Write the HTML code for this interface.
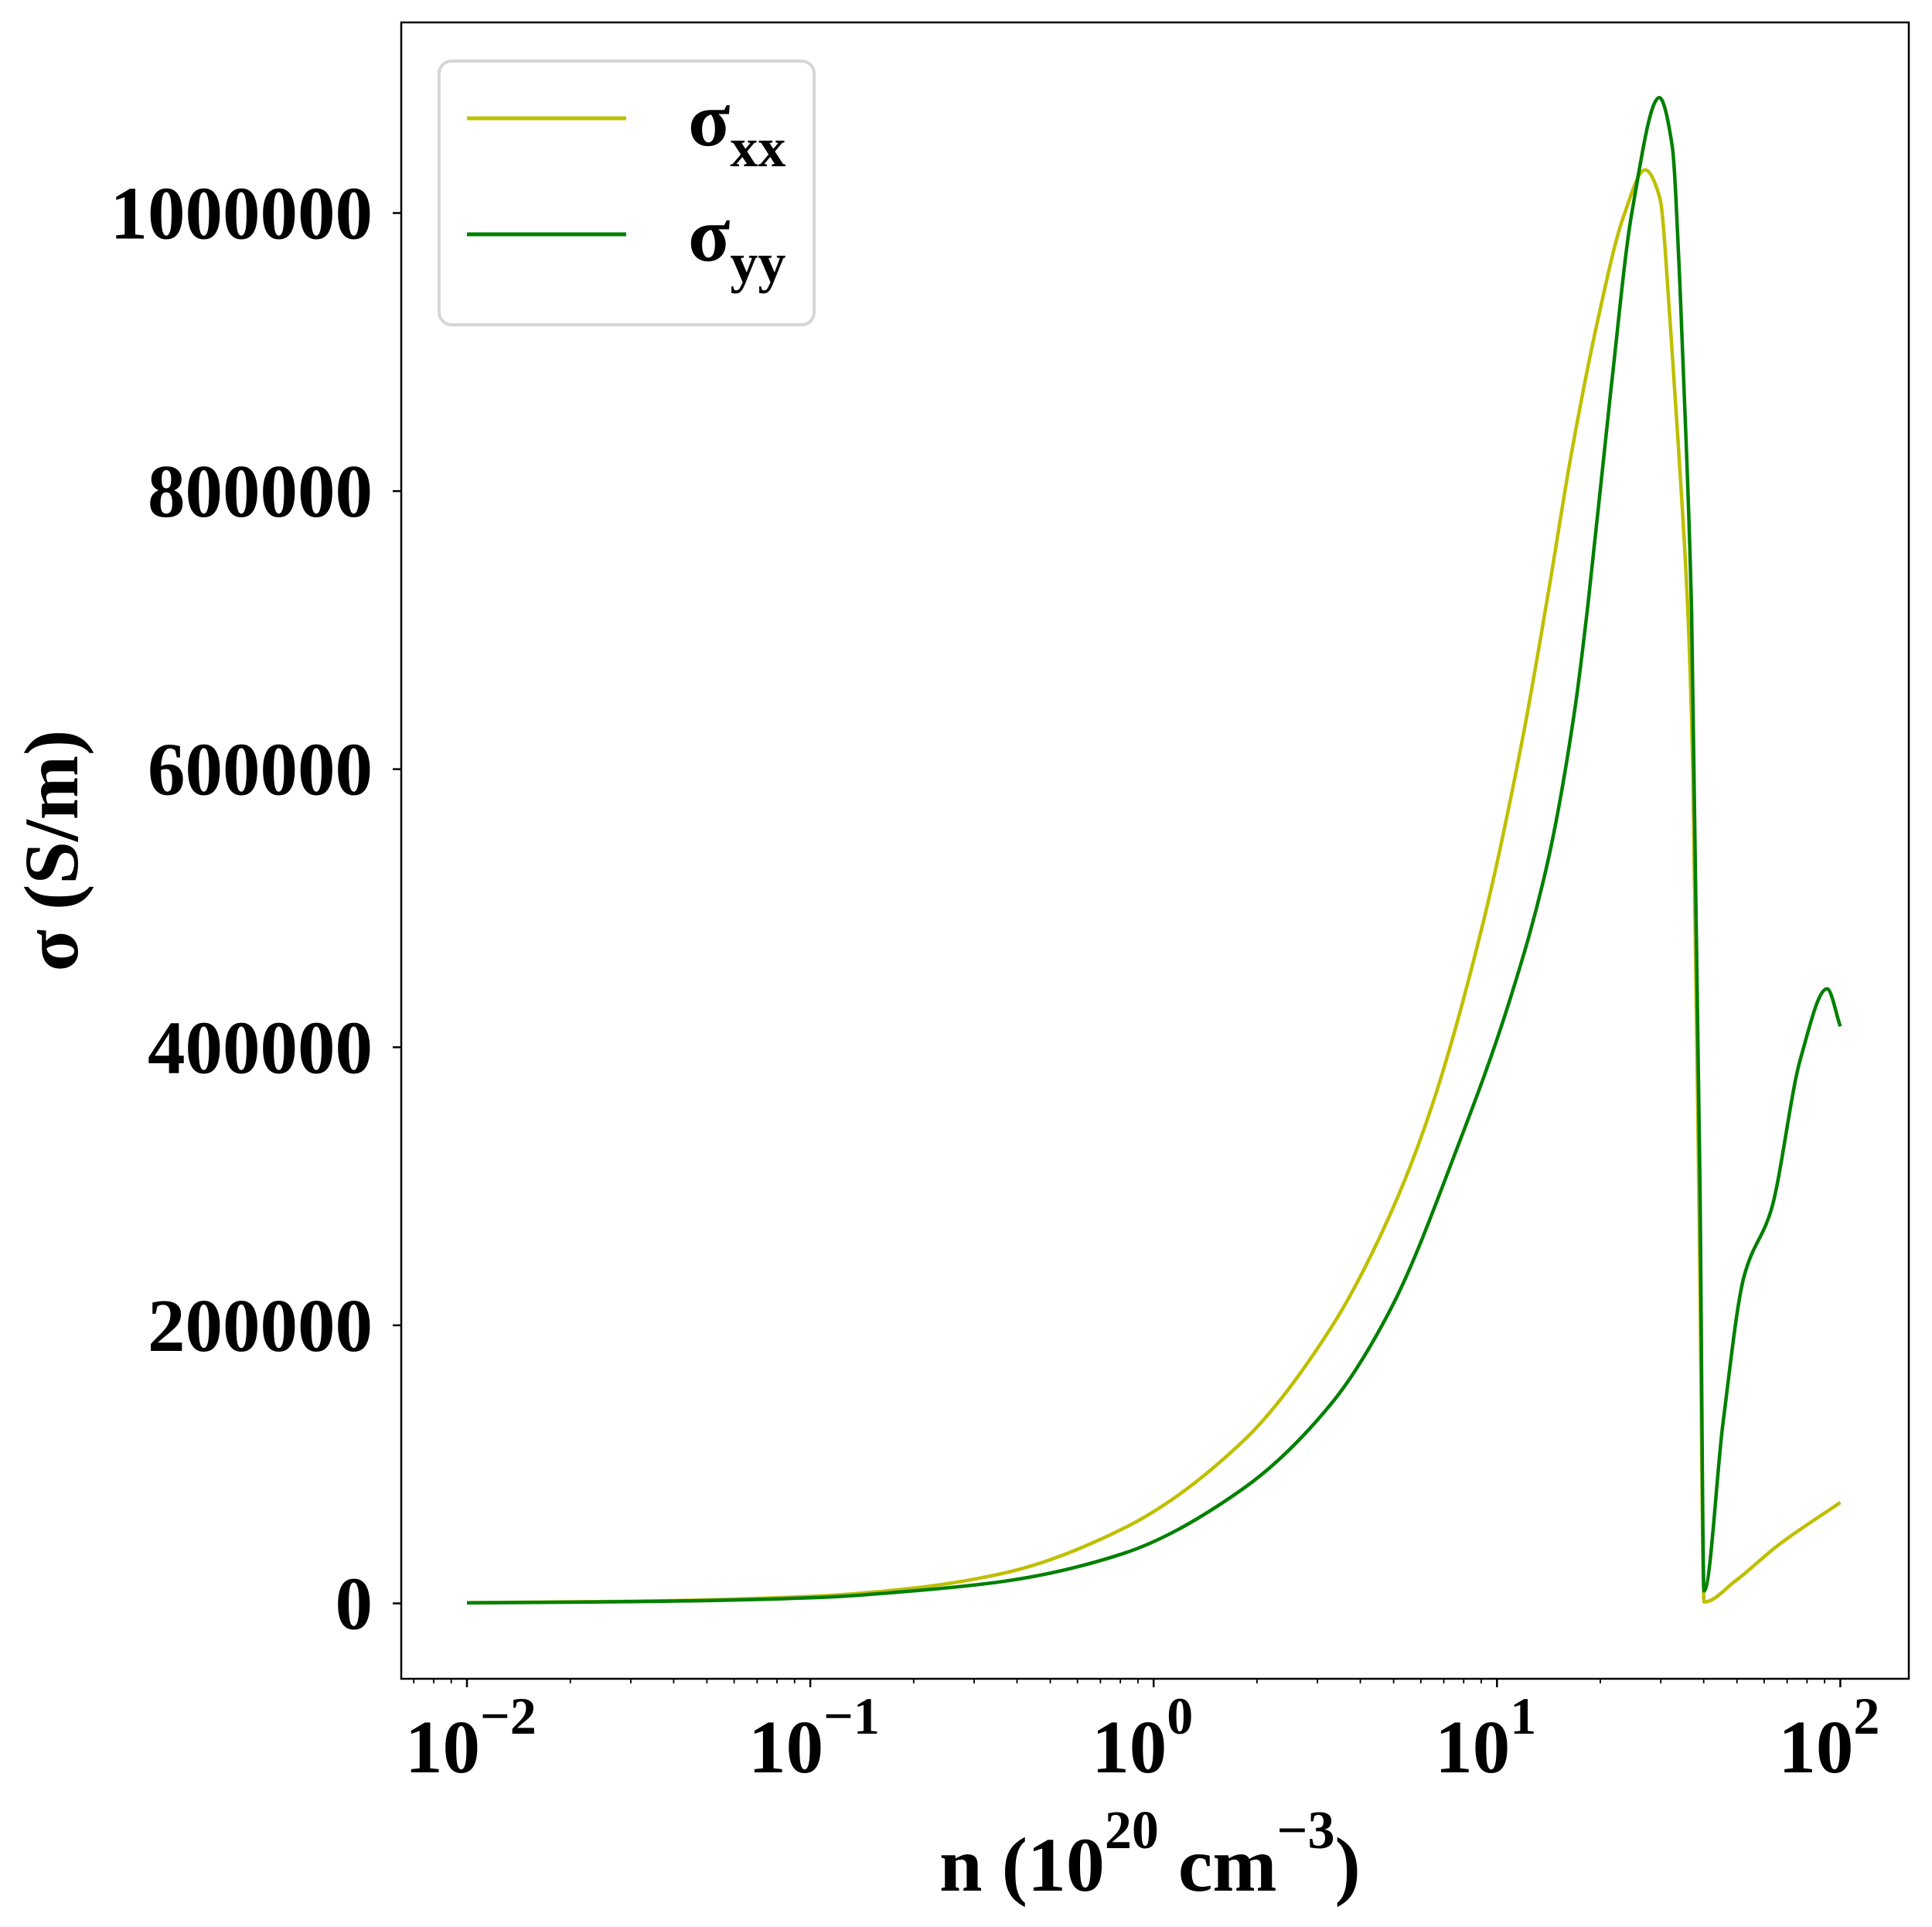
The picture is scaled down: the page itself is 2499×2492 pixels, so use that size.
<!DOCTYPE html>
<html><head><meta charset="utf-8"><style>
html,body{margin:0;padding:0;background:#fff;}
svg{display:block;}
text{font-family:"Liberation Serif","DejaVu Serif",serif;font-weight:bold;fill:#000;}
</style></head><body>
<svg id="chart" width="2499" height="2492" viewBox="0 0 2499 2492" xmlns="http://www.w3.org/2000/svg">
<rect x="0" y="0" width="2499" height="2492" fill="#fff"/>
<g id="plot"></g>
<g id="axes"></g>
<g>
  <rect x="568" y="79" width="485" height="341" rx="16" fill="#fff" stroke="#d6d6d6" stroke-width="4"/>
  <line x1="604" y1="153" x2="810" y2="153" stroke="#bfbf00" stroke-width="5"/>
  <text x="890" y="188" font-size="100">σ<tspan font-size="72" dy="27">xx</tspan></text>
  <line x1="604" y1="303" x2="810" y2="303" stroke="#008000" stroke-width="5"/>
  <text x="890" y="337" font-size="100">σ<tspan font-size="72" dy="27">yy</tspan></text>
</g>
<text x="1215" y="2445" font-size="100">n (10<tspan font-size="70" dy="-55">20</tspan><tspan dy="55"> cm</tspan><tspan font-size="70" dy="-55">−3</tspan><tspan dy="55">)</tspan></text>
<text transform="translate(100,1100) rotate(-90)" text-anchor="middle" font-size="100">σ (S/m)</text>
</svg>
<script>
const nValues = [0.01,0.03,0.1,0.2,0.37,0.818,1.81,3.3,4.91,6.43,9.14,11.87,14.0,16.5,19.7,23.4,27.0,29.8,31.9,33.9,36.0,37.2,39.0,40.1,49.4,66,100];
const sigmaXX = [500,1500,5000,11000,22000,54000,116000,199000,281000,356000,491000,622000,722000,828000,924000,998000,1031000,1011000,924000,825000,711000,597000,232000,1000,16000,42000,72600];
const nValuesYY = [0.01,0.03,0.1,0.2,0.37,0.818,1.81,3.3,4.91,7.67,10.9,14.1,16.9,18.4,21.5,24.7,29.7,32.4,34.1,35.7,36.9,39.0,40.1,45.5,52.4,62.9,76.6,91.5,100];
const sigmaYY = [400,1200,4000,9000,16000,36000,82000,144000,212000,328000,434000,535000,645000,718000,874000,1000000,1083000,1048000,949000,825000,711000,305000,9000,129000,235000,283000,392000,442000,415000];
const yTicks = [0,200000,400000,600000,800000,1000000];
const yTickLabels = ["0","200000","400000","600000","800000","1000000"];
const xTickExps = [-2,-1,0,1,2];
const xTickLabels = ["−2","−1","0","1","2"];

const NS="http://www.w3.org/2000/svg";
const L=519,R=2469,T=29,B=2171;
const X0=604,DEC=444.1;
const Y0=2073.5,YS=1798/1e6;
function xs(n){return X0+(Math.log10(n)+2)*DEC;}
function ys(v){return Y0-v*YS;}
function mk(tag,attrs,parent){const e=document.createElementNS(NS,tag);for(const k in attrs)e.setAttribute(k,attrs[k]);parent.appendChild(e);return e;}
const plot=document.getElementById('plot');
const axes=document.getElementById('axes');

function monotonePath(px,py){
  const n=px.length,d=[],m=new Array(n);
  for(let i=0;i<n-1;i++)d.push((py[i+1]-py[i])/(px[i+1]-px[i]));
  m[0]=d[0];m[n-1]=d[n-2];
  for(let i=1;i<n-1;i++){
    if(d[i-1]*d[i]<=0)m[i]=0;
    else{const h0=px[i]-px[i-1],h1=px[i+1]-px[i];const w1=2*h1+h0,w2=h1+2*h0;m[i]=(w1+w2)/(w1/d[i-1]+w2/d[i]);}
  }
  let s='M'+px[0].toFixed(1)+','+py[0].toFixed(1);
  for(let i=0;i<n-1;i++){
    const h=px[i+1]-px[i];
    s+='C'+(px[i]+h/3).toFixed(1)+','+(py[i]+m[i]*h/3).toFixed(1)+' '+(px[i+1]-h/3).toFixed(1)+','+(py[i+1]-m[i+1]*h/3).toFixed(1)+' '+px[i+1].toFixed(1)+','+py[i+1].toFixed(1);
  }
  return s;
}
function drawSeries(xsArr,vs,color,name){
  const px=xsArr.map(xs),py=vs.map(ys);
  const p=mk('path',{d:monotonePath(px,py),fill:'none',stroke:color,'stroke-width':4.5,'stroke-linejoin':'round'},plot);
  
  
}
drawSeries(nValues,sigmaXX,'#bfbf00','line-sigma-xx');
drawSeries(nValuesYY,sigmaYY,'#008000','line-sigma-yy');

const frame=mk('rect',{x:L,y:T,width:R-L,height:B-T,fill:'none',stroke:'#000','stroke-width':2.5},axes);



yTicks.forEach((v,i)=>{
  const y=ys(v);
  const t=mk('line',{x1:L-11,y1:y,x2:L,y2:y,stroke:'#000','stroke-width':2.5},axes);
  
  
  const tx=mk('text',{x:482,y:y+33,'text-anchor':'end','font-size':97},axes);
  tx.textContent=yTickLabels[i];
  
  
});

xTickExps.forEach((e,i)=>{
  const x=xs(Math.pow(10,e));
  const t=mk('line',{x1:x,y1:B,x2:x,y2:B+11,stroke:'#000','stroke-width':2.5},axes);
  
  
  const tx=mk('text',{x:x-80,y:2292,'font-size':97},axes);
  tx.textContent='10';
  const sp=mk('tspan',{'font-size':68,dy:-50},tx);
  sp.textContent=xTickLabels[i];
  
  
});
for(let e=-3;e<=2;e++){
  for(let m=2;m<=9;m++){
    const x=xs(m*Math.pow(10,e));
    if(x<L||x>R)continue;
    const t=mk('line',{x1:x,y1:B,x2:x,y2:B+6,stroke:'#000','stroke-width':1.8},axes);
    
    
  }
}
</script>
</body></html>
